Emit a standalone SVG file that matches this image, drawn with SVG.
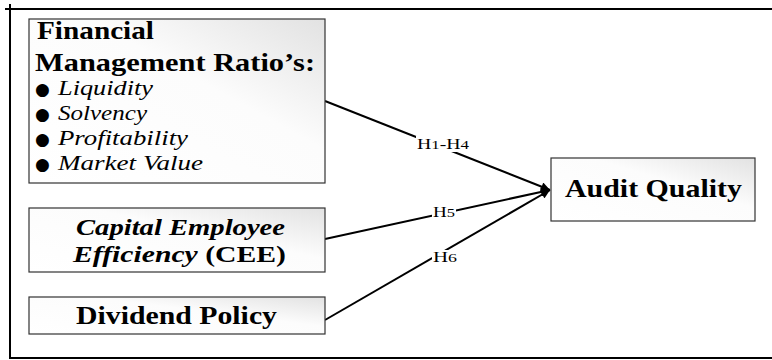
<svg xmlns="http://www.w3.org/2000/svg" width="772" height="360" viewBox="0 0 772 360">
<style>
.box{stroke:#333;stroke-width:1.2;fill:url(#g)}
.t{font-family:"Liberation Serif","Times New Roman",serif;fill:#000}
.b{font-weight:bold;font-size:26px}
.b2{font-weight:bold;font-size:24px}
.i{font-style:italic;font-size:21px}
.bul{font-family:"DejaVu Sans",sans-serif;font-size:17px;fill:#000}
.lbl{font-family:"Liberation Serif","Times New Roman",serif;font-size:14px;fill:#000}
.d{font-size:12px}
.c{stroke:#000;stroke-width:2;fill:none;marker-end:url(#ah)}
.frame{stroke:#000;stroke-width:2;fill:none}
</style>
<defs>
<linearGradient id="g" x1="0" y1="1" x2="1" y2="0">
<stop offset="0" stop-color="#ffffff"/>
<stop offset="0.6" stop-color="#fcfcfc"/>
<stop offset="1" stop-color="#e2e2e2"/>
</linearGradient>
<marker id="ah" viewBox="0 0 10 10" refX="10" refY="5" markerWidth="10" markerHeight="9" markerUnits="userSpaceOnUse" orient="auto">
<path d="M0,0 L10,5 L0,10 z" fill="#000"/>
</marker>
</defs>
<g id="frame">
<line class="frame" x1="10" y1="4" x2="10" y2="359"/>
<line class="frame" x1="5" y1="9" x2="772" y2="9"/>
<line class="frame" x1="9" y1="358" x2="772" y2="358"/>
</g>
<g id="connectors">
<line class="c" x1="325" y1="101" x2="550" y2="190"/>
<line class="c" x1="325" y1="239" x2="550" y2="190"/>
<line class="c" x1="325" y1="320" x2="550" y2="190"/>
<rect x="416" y="136" width="54" height="16" fill="#fff"/>
<rect x="432" y="205" width="24" height="14" fill="#fff"/>
<rect x="432" y="250" width="26" height="14" fill="#fff"/>
<text class="lbl" x="417" y="149" textLength="52" lengthAdjust="spacingAndGlyphs">H<tspan class="d">1</tspan>-H<tspan class="d">4</tspan></text>
<text class="lbl" x="433" y="217" textLength="22" lengthAdjust="spacingAndGlyphs">H<tspan class="d">5</tspan></text>
<text class="lbl" x="433" y="262" textLength="24" lengthAdjust="spacingAndGlyphs">H<tspan class="d">6</tspan></text>
</g>
<g id="node-fmr">
<rect class="box" x="29" y="19" width="296" height="164"/>
<text class="t b" x="37" y="39" textLength="117" lengthAdjust="spacingAndGlyphs">Financial</text>
<text class="t b" x="35" y="71" textLength="280" lengthAdjust="spacingAndGlyphs">Management Ratio’s:</text>
<text class="bul" x="35" y="95">●</text>
<text class="t i" x="58" y="95" textLength="95" lengthAdjust="spacingAndGlyphs">Liquidity</text>
<text class="bul" x="35" y="120">●</text>
<text class="t i" x="58" y="120" textLength="89" lengthAdjust="spacingAndGlyphs">Solvency</text>
<text class="bul" x="35" y="145">●</text>
<text class="t i" x="58" y="145" textLength="130" lengthAdjust="spacingAndGlyphs">Profitability</text>
<text class="bul" x="35" y="170">●</text>
<text class="t i" x="58" y="170" textLength="145" lengthAdjust="spacingAndGlyphs">Market Value</text>
</g>
<g id="node-cee">
<rect class="box" x="29" y="208" width="296" height="64"/>
<text class="t b2" x="76" y="235" textLength="209" lengthAdjust="spacingAndGlyphs" font-style="italic">Capital Employee</text>
<text class="t b2" x="73" y="262" textLength="213" lengthAdjust="spacingAndGlyphs"><tspan font-style="italic">Efficiency</tspan> (CEE)</text>
</g>
<g id="node-dividend">
<rect class="box" x="29" y="297" width="296" height="37"/>
<text class="t b" x="76" y="324" textLength="201" lengthAdjust="spacingAndGlyphs">Dividend Policy</text>
</g>
<g id="node-audit">
<rect class="box" x="551" y="158" width="204" height="63"/>
<text class="t b" x="565" y="197" textLength="177" lengthAdjust="spacingAndGlyphs">Audit Quality</text>
</g>
</svg>
